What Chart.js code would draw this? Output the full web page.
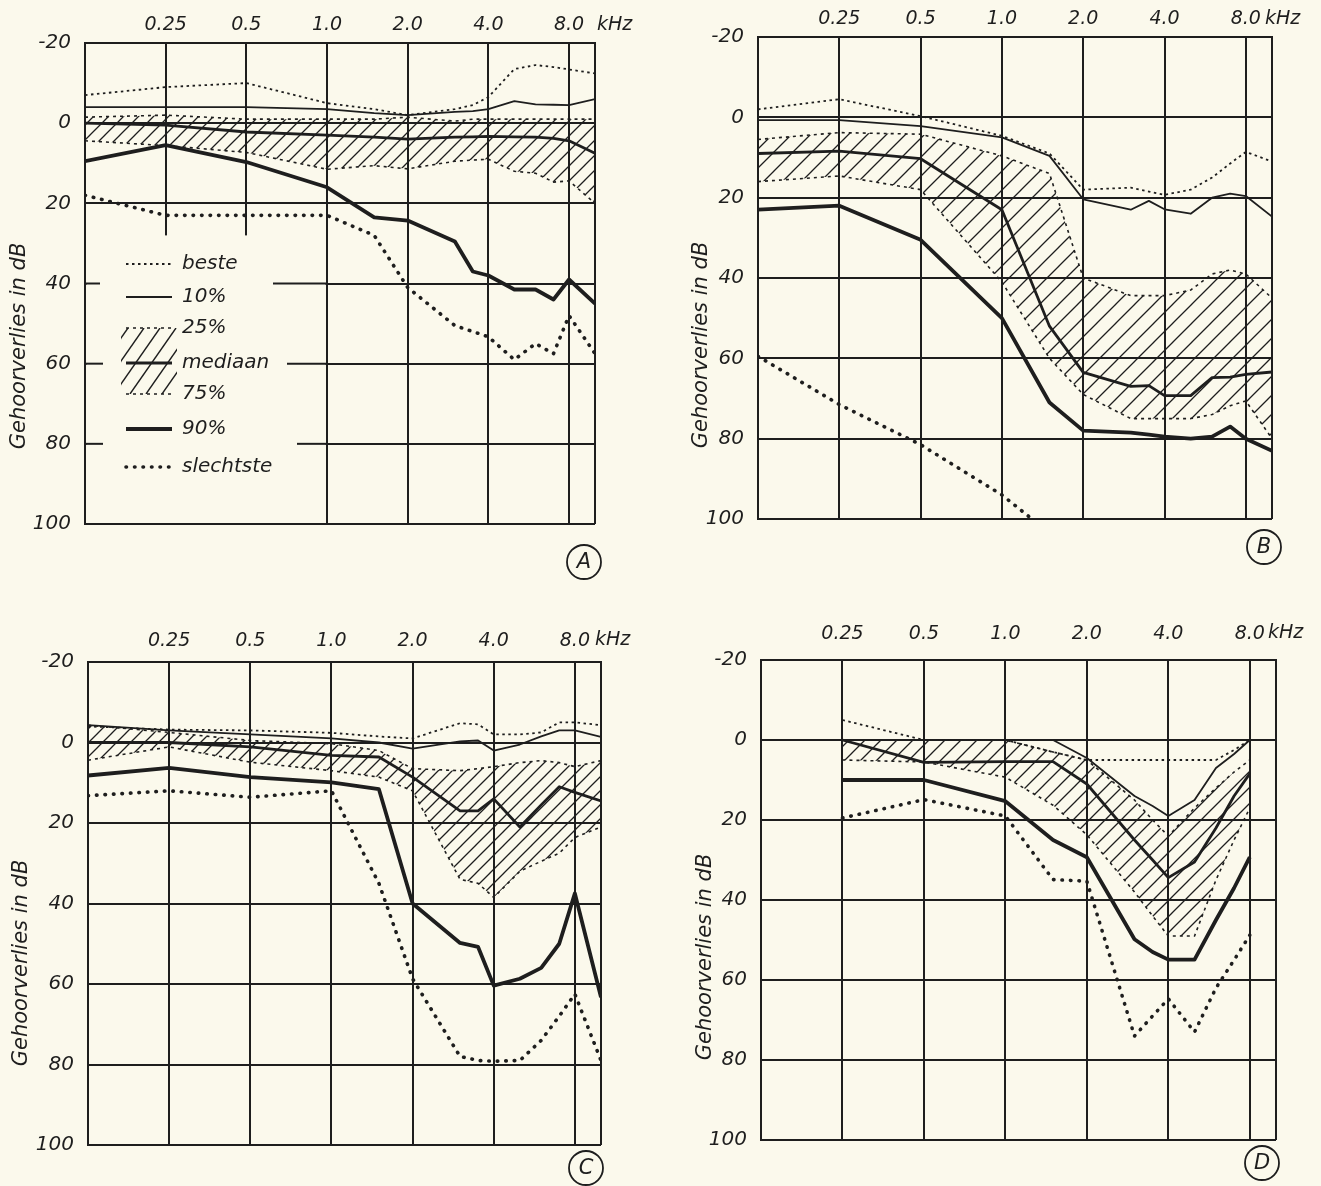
<!DOCTYPE html>
<html>
<head>
<meta charset="utf-8">
<script src="https://cdn.jsdelivr.net/npm/chart.js@4.4.1/dist/chart.umd.min.js"></script>
<style>
  html, body { margin: 0; padding: 0; background: #fbf9ec; }
  #page { position: relative; width: 1321px; height: 1186px; overflow: hidden; }
  canvas { position: absolute; }
</style>
</head>
<body>
<div id="page">
  <canvas id="chartA" width="660" height="593" style="left:0;top:0"></canvas>
  <canvas id="chartB" width="661" height="593" style="left:660px;top:0"></canvas>
  <canvas id="chartC" width="660" height="593" style="left:0;top:593px"></canvas>
  <canvas id="chartD" width="661" height="593" style="left:660px;top:593px"></canvas>
</div>
<script>
// frequencies (kHz) at which the curves are read
const FREQ = [0.125, 0.25, 0.5, 1, 1.5, 2, 3, 3.5, 4, 5, 6, 7, 8, 10];
const FREQ_TICKS = [0.125, 0.25, 0.5, 1, 2, 4, 8, 10];
const FREQ_LABELS = ['', '0.25', '0.5', '1.0', '2.0', '4.0', '8.0', ''];
const DB_TICKS = [-20, 0, 20, 40, 60, 80, 100];
const SERIES = ['beste', '10%', '25%', 'mediaan', '75%', '90%', 'slechtste'];

// A
const A_BESTE   = [-7, -9, -10, -5, -3.5, -2, -3.5, -4.5, -6.5, -13.5, -14.5, -14, -13.4, -12.4];
const A_P10     = [-4, -4, -4, -3.5, -2.5, -2, -2.8, -3, -3.5, -5.5, -4.7, -4.6, -4.5, -6];
const A_P25     = [-1.5, -2, -1, -1, -1, -1.5, -0.5, -1, -1, -1, -1, -1, -1, -1];
const A_MED     = [0, 0.5, 2.2, 3, 3.5, 4, 3.5, 3.4, 3.3, 3.4, 3.5, 3.8, 4.4, 7.5];
const A_P75     = [4.4, 5.6, 7.3, 11.5, 10.6, 11.4, 9.5, 9.2, 9, 12, 12.5, 14.7, 14.4, 20];
const A_P90     = [9.5, 5.5, 9.7, 16, 23.5, 24.3, 29.5, 37, 38, 41.5, 41.5, 44, 39, 45];
const A_SLECHT  = [18, 23, 23, 23, 28, 41, 50.5, 52, 53.3, 59, 55, 57.5, 48, 57.5];

// B
const B_BESTE   = [-2, -4.5, -0.3, 4.6, 9, 18, 17.5, 18.5, 19.3, 18, 15, 11.5, 8.6, 11];
const B_P10     = [0.7, 0.7, 2.2, 5, 9.6, 20.4, 23, 20.8, 22.9, 24, 20, 19, 19.6, 24.7];
const B_P25     = [5.5, 3.8, 4.2, 9.6, 14, 40, 44.4, 44.4, 44.4, 43, 39, 38, 39, 45];
const B_MED     = [9, 8.4, 10.3, 23, 52, 63.5, 67, 66.8, 69.3, 69.3, 64.8, 64.7, 64, 63.4];
const B_P75     = [16, 14.6, 18, 41, 60, 69, 75, 75, 75, 75, 74, 71.8, 70.6, 80];
const B_P90     = [23, 22, 30.5, 50, 71, 78, 78.5, 79, 79.5, 80, 79.5, 77, 80, 83];
const B_SLECHT  = [59.5, 71.5, 81.5, 94, 103.5, null, null, null, null, null, null, null, null, null];

// C
const C_BESTE   = [-4, -3.2, -3, -2.4, -1.5, -1, -4.8, -4.5, -2, -2, -2.5, -5, -5, -4.3];
const C_P10     = [-4.3, -3, -2, -1, 0, 1.5, -0.3, -0.5, 2, 0.5, -1.5, -3, -3, -1.4];
const C_P25     = [-4.3, -2.5, -0.5, 0.3, 2, 6.5, 7, 6.5, 6, 5, 4.5, 5, 6, 4.5];
const C_MED     = [0, 0, 1.1, 3.2, 3.6, 8.6, 17, 17, 14, 21, 15.5, 11, 12.4, 14.5];
const C_P75     = [4.4, 1.1, 4.9, 7, 8.6, 12, 34, 35, 38.5, 32, 29.5, 27.5, 23.6, 21];
const C_P90     = [8.2, 6.3, 8.6, 9.9, 11.6, 40, 49.8, 50.8, 60.4, 58.7, 56, 50, 37.5, 63.3];
const C_SLECHT  = [13.2, 12, 13.6, 12, 35, 58.7, 78, 79, 79.2, 79, 74, 68, 62.5, 79];

// D
const D_BESTE   = [null, -5, 0, 0, 3, 5, 5, 5, 5, 5, 5, 2.5, 0, null];
const D_P10     = [null, 0, 0, 0, 0, 4.5, 14, 16.5, 19, 15, 7, 3.5, 0, null];
const D_P25     = [null, 0, 0, 0, 3, 5, 15, 20, 24, 17, 12, 8, 5, null];
const D_MED     = [null, 0, 5.6, 5.4, 5.4, 11, 25, 30, 34.4, 30.5, 22, 14, 8.4, null];
const D_P75     = [null, 5, 5.5, 9.3, 16.3, 23.7, 38, 44, 49, 49, 35, 25, 17, null];
const D_P90     = [null, 10, 10, 15.3, 25, 29.3, 49.8, 53, 54.9, 54.9, 45, 37, 29.3, null];
const D_SLECHT  = [null, 19.5, 14.9, 19, 34.9, 35.3, 74, 69, 64.7, 73, 62, 55, 48.8, null];

const INK = '#1e1e1e';
const PAPER = '#fbf9ec';
const FONT = 'DejaVu Sans';

function line(ctx, x1, y1, x2, y2) {
  ctx.beginPath();
  ctx.moveTo(x1, y1);
  ctx.lineTo(x2, y2);
  ctx.stroke();
}

function makeHatch(canvas, step) {
  const tile = document.createElement('canvas');
  tile.width = tile.height = step;
  const g = tile.getContext('2d');
  g.strokeStyle = INK;
  g.lineWidth = 1.3;
  g.beginPath();
  g.moveTo(0, step); g.lineTo(step, 0);
  g.moveTo(-step / 2, step / 2); g.lineTo(step / 2, -step / 2);
  g.moveTo(step / 2, step * 1.5); g.lineTo(step * 1.5, step / 2);
  g.stroke();
  return canvas.getContext('2d').createPattern(tile, 'repeat');
}

function drawLegend(ctx, a) {
  const x0 = a.left + 41, x1 = a.left + 87, tx = a.left + 97;
  const rows = [
    { y: 264, dash: [2.5, 3.5], w: 1.8, text: 'beste' },
    { y: 297, dash: [], w: 2.2, text: '10%' },
    { y: 328, dash: [3, 4], w: 1.6, text: '25%' },
    { y: 363, dash: [], w: 3, text: 'mediaan' },
    { y: 394, dash: [3, 4], w: 1.6, text: '75%' },
    { y: 429, dash: [], w: 4.2, text: '90%' },
    { y: 467, dash: [0.5, 8], w: 3.6, text: 'slechtste', round: true }
  ];
  ctx.save();
  ctx.strokeStyle = INK;
  ctx.fillStyle = INK;
  // hatch between 25% and 75%
  ctx.save();
  ctx.beginPath();
  ctx.rect(x0 - 5, 328, x1 - x0 + 10, 394 - 328);
  ctx.clip();
  ctx.lineWidth = 1.4;
  for (let s = x0 - 60; s < x1 + 20; s += 16) {
    line(ctx, s, 394, s + 46, 328);
  }
  ctx.restore();
  rows.forEach(r => {
    ctx.lineWidth = r.w;
    ctx.setLineDash(r.dash);
    ctx.lineCap = r.round ? 'round' : 'butt';
    line(ctx, x0, r.y, x1, r.y);
  });
  ctx.setLineDash([]);
  ctx.font = `italic 20px "${FONT}"`;
  ctx.textAlign = 'left';
  ctx.textBaseline = 'middle';
  rows.forEach(r => ctx.fillText(r.text, tx, r.y));
  ctx.restore();
}

const decor = {
  id: 'decor',
  beforeDatasetsDraw(chart, args, o) {
    if (!o.legend) return;
    const { ctx, chartArea: a } = chart;
    const xs = chart.scales.x, ys = chart.scales.y;
    const x1k = xs.getPixelForValue(1);
    const yTop = ys.getPixelForValue(28);
    ctx.save();
    ctx.fillStyle = PAPER;
    ctx.fillRect(a.left + 1.5, yTop, x1k - a.left - 3, a.bottom - 1 - yTop);
    ctx.strokeStyle = INK;
    ctx.lineWidth = 2;
    [[40, 15, 188], [60, 18, 202], [80, 18, 212]].forEach(([v, stub, resume]) => {
      const yy = ys.getPixelForValue(v);
      line(ctx, a.left, yy, a.left + stub, yy);
      line(ctx, a.left + resume, yy, x1k, yy);
    });
    ctx.restore();
  },
  afterDatasetsDraw(chart, args, o) {
    const ctx = chart.ctx;
    ctx.save();
    ctx.fillStyle = INK;
    ctx.strokeStyle = INK;

    ctx.save();
    ctx.font = `italic 21px "${FONT}"`;
    ctx.translate(o.title[0], o.title[1]);
    ctx.rotate(-Math.PI / 2);
    ctx.textAlign = 'center';
    ctx.textBaseline = 'middle';
    ctx.fillText('Gehoorverlies in dB', 0, 0);
    ctx.restore();

    ctx.font = `italic 19px "${FONT}"`;
    ctx.textAlign = 'left';
    ctx.textBaseline = 'middle';
    ctx.fillText('kHz', o.khz[0], o.khz[1]);

    ctx.lineWidth = 1.8;
    ctx.beginPath();
    ctx.arc(o.badge[0], o.badge[1], 17, 0, Math.PI * 2);
    ctx.stroke();
    ctx.font = `italic 21px "${FONT}"`;
    ctx.textAlign = 'center';
    ctx.fillText(o.letter, o.badge[0], o.badge[1] + 1);
    ctx.restore();

    if (o.legend) drawLegend(ctx, chart.chartArea);
  }
};

function makePanel(id, values, cfg) {
  const canvas = document.getElementById(id);
  const hatch = makeHatch(canvas, cfg.hatchStep);
  const pts = arr => FREQ.map((f, i) => ({ x: f, y: arr[i] }));
  const styles = [
    { borderWidth: 1.8, borderDash: [2.5, 3.5] },
    { borderWidth: 1.8 },
    { borderWidth: 1.6, borderDash: [3, 4] },
    { borderWidth: 2.8 },
    { borderWidth: 1.6, borderDash: [3, 4], fill: 2, backgroundColor: hatch },
    { borderWidth: 3.8 },
    { borderWidth: 3.6, borderDash: [0.5, 8], borderCapStyle: 'round' }
  ];
  const datasets = SERIES.map((name, i) => Object.assign({
    label: name,
    data: pts(values[i]),
    borderColor: INK,
    pointRadius: 0,
    tension: 0,
    spanGaps: true,
    fill: false,
    borderJoinStyle: 'round'
  }, styles[i]));

  const tickFont = { family: FONT, size: 19, style: 'italic' };
  return new Chart(canvas, {
    type: 'line',
    data: { datasets },
    plugins: [decor],
    options: {
      responsive: false,
      animation: false,
      devicePixelRatio: 1,
      layout: { padding: cfg.padding },
      plugins: {
        legend: { display: false },
        tooltip: { enabled: false },
        decor: cfg.decor
      },
      scales: {
        x: {
          type: 'logarithmic',
          position: 'top',
          min: 0.125,
          max: 10,
          afterBuildTicks: s => { s.ticks = FREQ_TICKS.map(v => ({ value: v })); },
          afterFit: s => { s.height = cfg.xAxisH; },
          ticks: {
            callback: (v, i) => FREQ_LABELS[i],
            font: tickFont,
            color: INK,
            padding: cfg.xPad,
            maxRotation: 0,
            autoSkip: false
          },
          grid: { color: INK, lineWidth: 2, drawTicks: false },
          border: { color: INK, width: 2 }
        },
        y: {
          type: 'linear',
          min: -20,
          max: 100,
          reverse: true,
          afterBuildTicks: s => { s.ticks = DB_TICKS.map(v => ({ value: v })); },
          afterFit: s => { s.width = 60; },
          ticks: {
            callback: v => String(v),
            font: { family: FONT, size: 20, style: 'italic' },
            color: INK,
            padding: 14
          },
          grid: { color: INK, lineWidth: 2, drawTicks: false },
          border: { color: INK, width: 2 }
        }
      }
    }
  });
}

makePanel('chartA', [A_BESTE, A_P10, A_P25, A_MED, A_P75, A_P90, A_SLECHT], {
  padding: { left: 25, top: 3, right: 65, bottom: 69 },
  xAxisH: 40, xPad: 7, hatchStep: 15,
  decor: { title: [20, 346], khz: [597, 25], badge: [584, 562], letter: 'A', legend: true }
});
makePanel('chartB', [B_BESTE, B_P10, B_P25, B_MED, B_P75, B_P90, B_SLECHT], {
  padding: { left: 38, top: 2, right: 49, bottom: 74 },
  xAxisH: 35, xPad: 7, hatchStep: 19,
  decor: { title: [42, 345], khz: [605, 19], badge: [604, 547], letter: 'B', legend: false }
});
makePanel('chartC', [C_BESTE, C_P10, C_P25, C_MED, C_P75, C_P90, C_SLECHT], {
  padding: { left: 28, top: 19, right: 59, bottom: 41 },
  xAxisH: 50, xPad: 10, hatchStep: 14,
  decor: { title: [22, 370], khz: [595, 47], badge: [586, 575], letter: 'C', legend: false }
});
makePanel('chartD', [D_BESTE, D_P10, D_P25, D_MED, D_P75, D_P90, D_SLECHT], {
  padding: { left: 41, top: 12, right: 45, bottom: 46 },
  xAxisH: 55, xPad: 15, hatchStep: 16,
  decor: { title: [46, 364], khz: [608, 40], badge: [602, 570], letter: 'D', legend: false }
});
</script>
</body>
</html>
